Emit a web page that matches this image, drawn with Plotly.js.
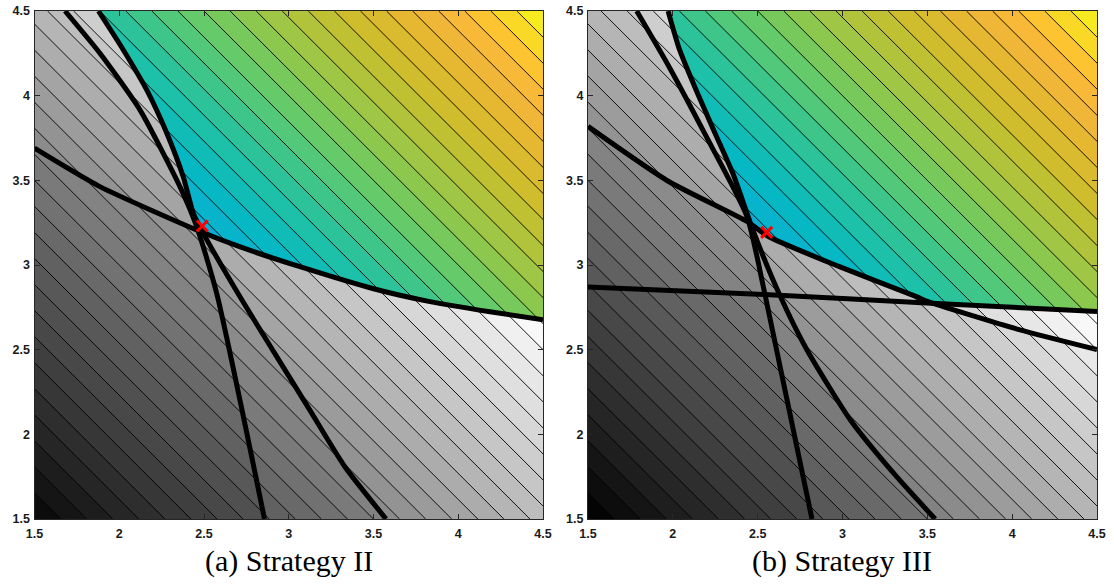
<!DOCTYPE html>
<html><head><meta charset="utf-8">
<script src="https://cdn.plot.ly/plotly-3.0.1.min.js"></script>
<style>html,body{margin:0;padding:0;background:#fff}#chart{width:1114px;height:588px}</style>
</head><body><div id="chart"></div>
<script>
// ---------- axes ----------
const tickVals = [1.5, 2, 2.5, 3, 3.5, 4, 4.5];
const tickText = ['1.5', '2', '2.5', '3', '3.5', '4', '4.5'];
const axisRange = [1.5, 4.5];

// ---------- objective surface (values at the window corners) ----------
const gridX = [1.5, 4.5];
const gridY = [1.5, 4.5];
const objCorners = [[3, 6], [6, 9]];
const levelStart = 3, levelEnd = 9, levelCount = 40;

// ---------- (a) Strategy II ----------
const a_P_x = [1.68, 1.886, 2.122, 2.358, 2.457, 2.575, 2.857];
const a_P_y = [4.5, 4.25, 3.916, 3.463, 3.227, 2.833, 1.5];
const a_Q_x = [1.877, 2.024, 2.162, 2.28, 2.378, 2.437, 2.496, 2.70, 2.91, 3.12, 3.33, 3.574];
const a_Q_y = [4.5, 4.27, 4.034, 3.78, 3.52, 3.305, 3.187, 2.833, 2.49, 2.15, 1.81, 1.5];
const a_S_x = [1.5, 1.886, 2.457, 2.71, 3.066, 3.5, 3.833, 4.187, 4.5];
const a_S_y = [3.69, 3.463, 3.207, 3.108, 2.99, 2.86, 2.784, 2.724, 2.677];
const a_opt_x = [2.49], a_opt_y = [3.23];

// ---------- (b) Strategy III ----------
const b_P_x = [1.787, 1.976, 2.186, 2.437, 2.542, 2.82];
const b_P_y = [4.5, 4.174, 3.78, 3.286, 2.832, 1.5];
const b_Q_x = [1.972, 2.039, 2.144, 2.248, 2.353, 2.437, 2.479, 2.626, 2.79, 3.05, 3.31, 3.546];
const b_Q_y = [4.5, 4.273, 4.017, 3.78, 3.543, 3.306, 3.188, 2.832, 2.5, 2.08, 1.76, 1.5];
const b_S_x = [1.5, 1.976, 2.437, 2.563, 2.982, 3.443, 3.5, 4.041, 4.5];
const b_S_y = [3.819, 3.493, 3.257, 3.168, 2.99, 2.81, 2.785, 2.618, 2.5];
const b_H_x = [1.5, 2.567, 3.494, 4.5];
const b_H_y = [2.87, 2.825, 2.776, 2.726];
const b_opt_x = [2.553], b_opt_y = [3.193];

const captions = ['(a) Strategy II', '(b) Strategy III'];

// ---------- colours ----------
const grayLo = 2.55, grayHi = 7.2, grayShift = 0.15;
const parulaF = [3.0, 5.4, 5.7, 6.0, 6.3, 6.6, 6.9, 7.2, 7.5, 7.8, 8.1, 8.4, 8.6, 8.8, 9.0];
const parulaC = ['#3e26a8', '#1a9ae0', '#0aaed4', '#06b8c4', '#1cc0aa', '#3cc68c', '#62ca6c', '#88c950',
                 '#adc43c', '#cbbe2e', '#e2b82e', '#f6b53c', '#fcc232', '#f8dc24', '#f5f51c'];

// ---------- helpers ----------
const cs = (levelEnd - levelStart) / (levelCount - 1);
function hex2rgb(h) { return [parseInt(h.slice(1, 3), 16), parseInt(h.slice(3, 5), 16), parseInt(h.slice(5, 7), 16)]; }
function parulaAt(f) {
  if (f <= parulaF[0]) return parulaC[0];
  for (let i = 1; i < parulaF.length; i++) {
    if (f <= parulaF[i]) {
      const t = (f - parulaF[i - 1]) / (parulaF[i] - parulaF[i - 1]);
      const a = hex2rgb(parulaC[i - 1]), b = hex2rgb(parulaC[i]);
      return 'rgb(' + a.map((v, k) => Math.round(v + (b[k] - v) * t)).join(',') + ')';
    }
  }
  return parulaC[parulaC.length - 1];
}
function grayFn(n) {
  return f => {
    let L = (f - grayShift * (n - 1) - grayLo) / (grayHi - grayLo);
    L = Math.max(0, Math.min(1, L));
    const v = Math.round(L * 255);
    return 'rgb(' + v + ',' + v + ',' + v + ')';
  };
}
function bandScale(colorFn) {
  const stops = [], K = 120;
  for (let i = 0; i <= K; i++) {
    const s = i / K;
    stops.push([s, colorFn(levelStart + (s * levelCount - 0.5) * cs)]);
  }
  return stops;
}
function sidePoly(xs, ys, side) {
  const pts = xs.map((x, i) => [x, ys[i]]);
  const lo = axisRange[0], hi = axisRange[1];
  if (side === 'left') return pts.concat([[lo, lo], [lo, hi]]);
  if (side === 'right') return pts.concat([[hi, lo], [hi, hi]]);
  if (side === 'below') return pts.concat([[hi, lo], [lo, lo]]);
  return pts.concat([[hi, hi], [lo, hi]]);
}
function combos(arr, k) {
  if (k === 0) return [[]];
  const out = [];
  arr.forEach((v, i) => combos(arr.slice(i + 1), k - 1).forEach(c => out.push([v].concat(c))));
  return out;
}

const plots = [
  { xa: 'x', ya: 'y', opt: [a_opt_x, a_opt_y], curves: [
    { x: a_P_x, y: a_P_y, bad: 'left', good: 'right' },
    { x: a_Q_x, y: a_Q_y, bad: 'left', good: 'right' },
    { x: a_S_x, y: a_S_y, bad: 'below', good: 'above' } ] },
  { xa: 'x2', ya: 'y2', opt: [b_opt_x, b_opt_y], curves: [
    { x: b_P_x, y: b_P_y, bad: 'left', good: 'right' },
    { x: b_Q_x, y: b_Q_y, bad: 'left', good: 'right' },
    { x: b_S_x, y: b_S_y, bad: 'below', good: 'above' },
    { x: b_H_x, y: b_H_y, bad: 'below', good: 'above' } ] }
];

const traces = [], clipSpecs = {};
let uidN = 0;
function contourTrace(p, colorFn, polys) {
  const uid = 'ct' + (uidN++);
  if (polys) clipSpecs[uid] = { xa: p.xa.replace('x', 'xaxis'), ya: p.ya.replace('y', 'yaxis'), polys };
  return {
    type: 'contour', uid, x: gridX, y: gridY, z: objCorners, xaxis: p.xa, yaxis: p.ya,
    autocontour: false, connectgaps: true,
    contours: { start: levelStart, end: levelEnd, size: cs, coloring: 'fill', showlines: true },
    line: { color: '#000', width: 0.9, smoothing: 0 },
    colorscale: bandScale(colorFn), showscale: false, hoverinfo: 'skip'
  };
}
plots.forEach(p => {
  traces.push(contourTrace(p, grayFn(1), null));
  const badPolys = p.curves.map(c => sidePoly(c.x, c.y, c.bad));
  const idx = badPolys.map((_, i) => i);
  for (let k = 2; k <= badPolys.length; k++) {
    combos(idx, k).forEach(cb => traces.push(contourTrace(p, grayFn(k), cb.map(i => badPolys[i]))));
  }
  traces.push(contourTrace(p, parulaAt, p.curves.map(c => sidePoly(c.x, c.y, c.good))));
});
plots.forEach(p => {
  p.curves.forEach(c => traces.push({
    type: 'scatter', mode: 'lines', x: c.x, y: c.y, xaxis: p.xa, yaxis: p.ya,
    line: { color: '#000', width: 5, shape: 'spline', smoothing: 0.6 }, hoverinfo: 'skip'
  }));
  traces.push({
    type: 'scatter', mode: 'markers', x: p.opt[0], y: p.opt[1], xaxis: p.xa, yaxis: p.ya,
    marker: { symbol: 'x-thin', size: 11, color: '#ff0000', line: { color: '#ff0000', width: 3 } }, hoverinfo: 'skip'
  });
});

const W = 1114, H = 588;
function axis(domain, anchor, isX) {
  return {
    domain, anchor, range: axisRange, fixedrange: true, showgrid: false, zeroline: false,
    showline: true, linecolor: '#262626', linewidth: 1, mirror: 'ticks',
    ticks: 'inside', ticklen: 5, tickwidth: 1, tickcolor: '#262626',
    tickvals: tickVals, ticktext: tickText, ticklabelstandoff: isX ? 3 : 1,
    tickfont: { family: 'Liberation Sans, Arial, sans-serif', size: 12.5, color: '#1a1a1a', weight: 'bold' }
  };
}
const yDom = [1 - 519 / H, 1 - 11 / H];
const capFont = { family: 'Liberation Serif, serif', size: 30, color: '#000' };
const layout = {
  width: W, height: H, autosize: false, margin: { l: 0, r: 0, t: 0, b: 0 },
  paper_bgcolor: '#fff', plot_bgcolor: '#fff', showlegend: false,
  xaxis: axis([34.5 / W, 543 / W], 'y', true),
  yaxis: axis(yDom, 'x', false),
  xaxis2: axis([588 / W, 1097 / W], 'y2', true),
  yaxis2: axis(yDom, 'x2', false),
  annotations: [
    { text: captions[0], xref: 'paper', yref: 'paper', x: (34.5 + 543) / 2 / W, y: 1 - 561 / H,
      xanchor: 'center', yanchor: 'middle', showarrow: false, font: capFont },
    { text: captions[1], xref: 'paper', yref: 'paper', x: (588 + 1097) / 2 / W, y: 1 - 561 / H,
      xanchor: 'center', yanchor: 'middle', showarrow: false, font: capFont }
  ]
};

const gd = document.getElementById('chart');
Plotly.newPlot(gd, traces, layout, { staticPlot: true, responsive: false }).then(() => {
  const fl = gd._fullLayout;
  const ns = 'http://www.w3.org/2000/svg';
  const defs = gd.querySelector('svg.main-svg defs');
  let cid = 0;
  gd.querySelectorAll('g.contour').forEach(el => {
    const cd = el.__data__;
    if (!cd || !cd[0] || !cd[0].trace) return;
    const spec = clipSpecs[cd[0].trace.uid];
    if (!spec) return;
    const xa = fl[spec.xa], ya = fl[spec.ya];
    let target = el;
    spec.polys.forEach((poly, i) => {
      const id = 'rkclip' + (cid++);
      const cp = document.createElementNS(ns, 'clipPath');
      cp.setAttribute('id', id);
      cp.setAttribute('clipPathUnits', 'userSpaceOnUse');
      const path = document.createElementNS(ns, 'path');
      path.setAttribute('d', 'M' + poly.map(pt => xa.c2p(pt[0]).toFixed(2) + ',' + ya.c2p(pt[1]).toFixed(2)).join('L') + 'Z');
      cp.appendChild(path);
      defs.appendChild(cp);
      if (i === 0) {
        el.setAttribute('clip-path', 'url(#' + id + ')');
      } else {
        const wrap = document.createElementNS(ns, 'g');
        target.parentNode.insertBefore(wrap, target);
        wrap.appendChild(target);
        wrap.setAttribute('clip-path', 'url(#' + id + ')');
        target = wrap;
      }
    });
  });
});
</script>
</body></html>
